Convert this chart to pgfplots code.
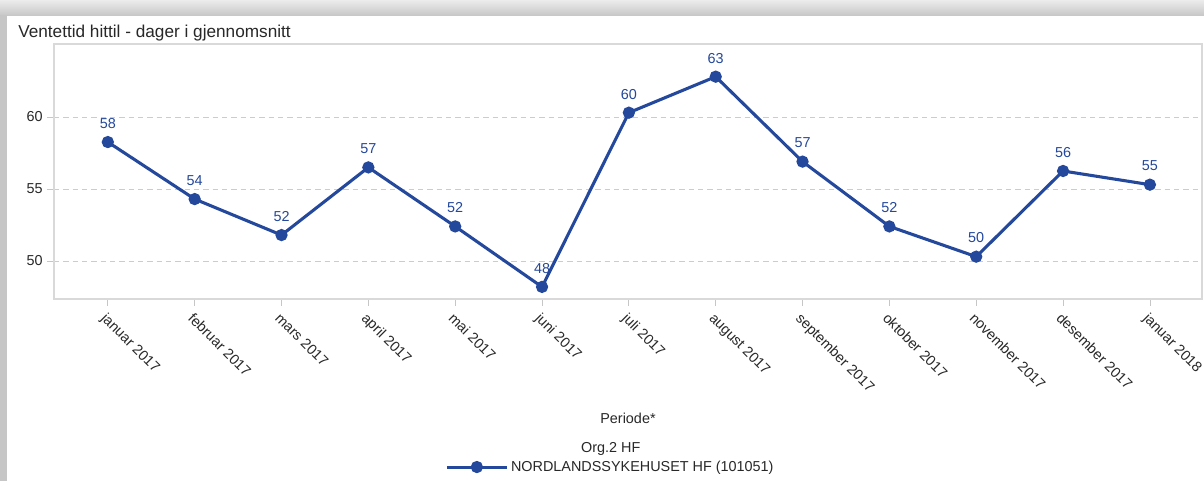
\documentclass[border=0pt]{standalone}
\usepackage{fontspec}
\setmainfont{Liberation Sans}
\usepackage{pgfplots}
\pgfplotsset{compat=1.18}

\definecolor{lineblue}{RGB}{36,72,156}
\definecolor{txt}{RGB}{40,40,40}

\begin{document}
\begin{tikzpicture}[x=0.75pt,y=0.75pt]
% frame / shadow (1 unit = 1 px of the reference, origin bottom left)
\useasboundingbox (0,0) rectangle (1204,481);
\fill[gray!30] (0,0) rectangle (1204,481);
\shade[top color=gray!15, bottom color=gray!45] (0,465) rectangle (1204,481);
\fill[gray!45] (0,0) rectangle (7,466);
\fill[white] (7,0) rectangle (1204,465);
\node[anchor=base west, inner sep=0pt, text=txt, font=\fontsize{12.9}{14}\selectfont] at (18,443) {Ventettid hittil - dager i gjennomsnitt};

\begin{axis}[
    at={(40.5pt,136.5pt)}, anchor=south west,
    scale only axis,
    width=861pt, height=191.25pt,
    xmin=-0.62, xmax=12.6,
    ymin=47.36, ymax=65.07,
    xtick={0,...,12},
    xticklabels={januar 2017, februar 2017, mars 2017, april 2017, mai 2017, juni 2017, juli 2017, august 2017, september 2017, oktober 2017, november 2017, desember 2017, januar 2018},
    ytick={50,55,60},
    tick align=outside,
    major tick length=5pt,
    tick style={gray!45, line width=0.6pt},
    axis line style={gray!30, line width=0.8pt},
    ymajorgrids=true,
    grid style={gray!40, dash pattern=on 4pt off 3pt, line width=0.6pt},
    xtick pos=bottom, ytick pos=left,
    ticklabel style={font=\fontsize{10.8}{12}\selectfont, text=txt},
    xticklabel style={rotate=-45, anchor=north west, inner sep=1pt},
    xticklabel shift=3pt,
    /pgf/number format/assume math mode=true,
    xlabel={Periode*},
    xlabel style={at={(axis description cs:0.5,-0.467)}, anchor=center, font=\fontsize{10.8}{12}\selectfont, text=txt},
    nodes near coords,
    point meta=explicit symbolic,
    nodes near coords style={font=\fontsize{10.8}{12}\selectfont, text=lineblue, anchor=south, inner sep=0pt, yshift=9pt},
    legend style={at={(axis description cs:0.485,-0.659)}, anchor=center, draw=none, fill=none,
        font=\fontsize{10.8}{12}\selectfont, text=txt, inner sep=0pt},
    legend image code/.code={\draw[#1, mark repeat=2, mark phase=2] plot coordinates {(0pt,0pt) (22.5pt,0pt) (45pt,0pt)};},
    clip=false,
]
\addplot[color=lineblue, line width=2.3pt, mark=*, mark size=3.4pt, mark options={solid, fill=lineblue}]
coordinates {
(0,58.26)[58] (1,54.3)[54] (2,51.8)[52] (3,56.5)[57] (4,52.4)[52] (5,48.2)[48]
(6,60.3)[60] (7,62.8)[63] (8,56.9)[57] (9,52.4)[52] (10,50.3)[50] (11,56.25)[56] (12,55.3)[55]
};
\addlegendentry{NORDLANDSSYKEHUSET HF (101051)}
\node[text=txt, font=\fontsize{10.8}{12}\selectfont] at (axis description cs:0.485,-0.588) {Org.2 HF};
\end{axis}
\end{tikzpicture}
\end{document}
